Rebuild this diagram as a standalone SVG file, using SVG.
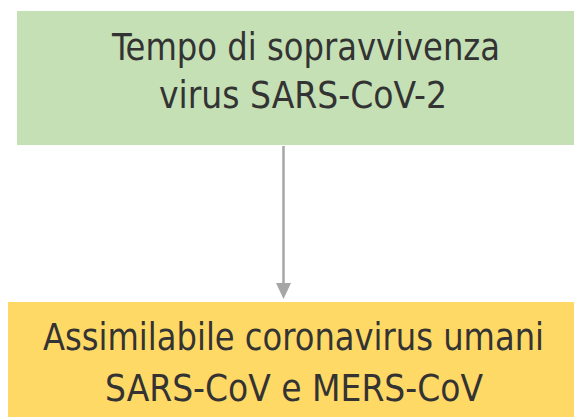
<svg xmlns="http://www.w3.org/2000/svg" width="574" height="417" viewBox="0 0 574 417">
  <style>
    .lbl { font-family: "DejaVu Sans Condensed", "DejaVu Sans", sans-serif; font-size: 37px; fill: #333333; text-anchor: middle; }
    .conn { stroke: #A6A6A6; stroke-width: 2.5; }
    .head { fill: #A6A6A6; }
  </style>
  <rect width="574" height="417" fill="#FFFFFF"/>
  <g id="node-tempo">
    <rect x="17" y="11" width="570" height="134" fill="#C5E0B4"/>
    <text class="lbl" x="306" y="60" textLength="388" lengthAdjust="spacingAndGlyphs">Tempo di sopravvivenza</text>
    <text class="lbl" x="303" y="108" textLength="288" lengthAdjust="spacingAndGlyphs">virus SARS-CoV-2</text>
  </g>
  <g id="node-assimilabile">
    <rect x="8" y="302" width="580" height="120" fill="#FFD966"/>
    <text class="lbl" x="293.5" y="350" textLength="501" lengthAdjust="spacingAndGlyphs">Assimilabile coronavirus umani</text>
    <text class="lbl" x="294" y="401" textLength="378" lengthAdjust="spacingAndGlyphs">SARS-CoV e MERS-CoV</text>
  </g>
  <g id="connectors">
    <line class="conn" x1="283.5" y1="146" x2="283.5" y2="285"/>
    <polygon class="head" points="276,283 291,283 283.5,299"/>
  </g>
</svg>
